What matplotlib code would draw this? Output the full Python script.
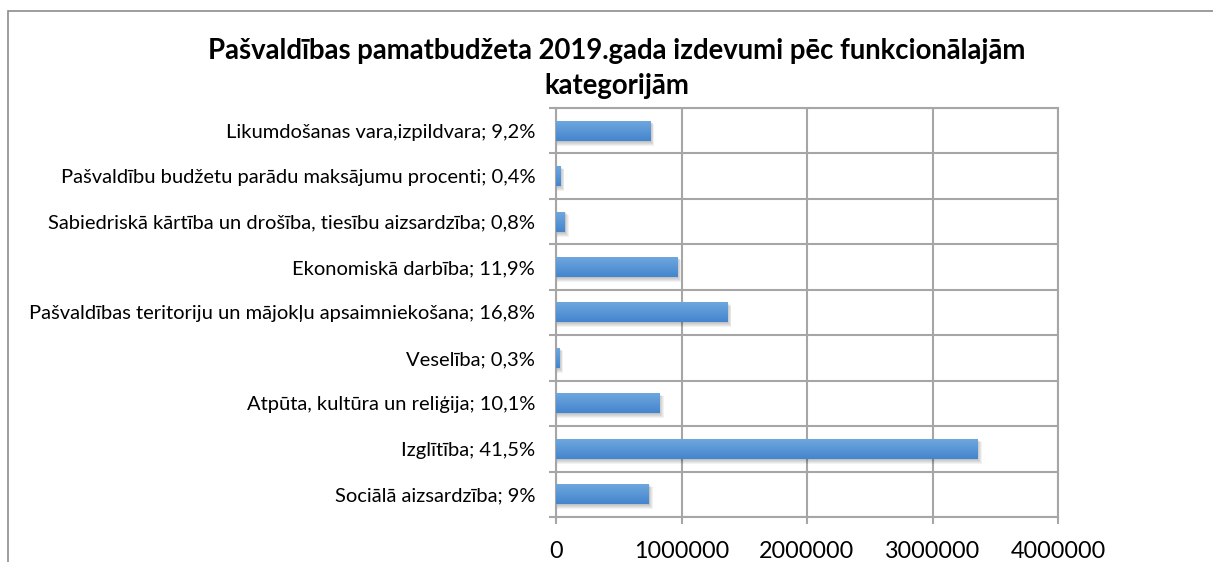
import numpy as np
import matplotlib
matplotlib.use("Agg")
import matplotlib.pyplot as plt
from matplotlib.patches import Rectangle
from matplotlib.colors import LinearSegmentedColormap

plt.rcParams['font.family'] = ['Lato', 'DejaVu Sans']

# categories top -> bottom
categories = [
    "Likumdošanas vara,izpildvara; 9,2%",
    "Pašvaldību budžetu parādu maksājumu procenti; 0,4%",
    "Sabiedriskā kārtība un drošība, tiesību aizsardzība; 0,8%",
    "Ekonomiskā darbība; 11,9%",
    "Pašvaldības teritoriju un mājokļu apsaimniekošana; 16,8%",
    "Veselība; 0,3%",
    "Atpūta, kultūra un reliģija; 10,1%",
    "Izglītība; 41,5%",
    "Sociālā aizsardzība; 9%",
]
values = [750000, 35000, 70000, 965000, 1365000, 25000, 825000, 3360000, 740000]
x_ticks = [0, 1000000, 2000000, 3000000, 4000000]
title = "Pašvaldības pamatbudžeta 2019.gada izdevumi pēc funkcionālajām\nkategorijām"

fig = plt.figure(figsize=(12.13, 5.62), dpi=100)
ax = fig.add_axes([556 / 1213, 1 - 517 / 562, 502 / 1213, 409 / 562])

grid_col = "#a6a6a6"
bar_h = 0.44
cmap = LinearSegmentedColormap.from_list("bar", ["#6ea7de", "#4485ce"])
grad = np.linspace(0, 1, 64).reshape(-1, 1)

px_x = 4000000 / 502
px_y = 9 / 409
for i, v in enumerate(values):
    # soft drop shadow
    for k in range(1, 6):
        ax.add_patch(Rectangle((0, i - bar_h / 2 + k * px_y * 0.6), v + k * px_x * 0.8,
                               bar_h + k * px_y * 0.4, facecolor="black",
                               alpha=0.05, edgecolor="none", zorder=2))
    ax.imshow(grad, cmap=cmap, aspect="auto", origin="upper",
              extent=(0, v, i + bar_h / 2, i - bar_h / 2), zorder=3)

ax.set_xlim(0, 4000000)
ax.set_ylim(len(categories) - 0.5, -0.5)

ax.set_xticks(x_ticks)
ax.set_xticklabels([str(t) for t in x_ticks], fontsize=16.8)
ax.set_yticks(np.arange(-0.5, len(categories), 1.0))
ax.set_yticklabels([])
ax.set_yticks(np.arange(len(categories)), minor=True)
ax.set_yticklabels(categories, minor=True, fontsize=14.5)
ax.tick_params(axis="y", which="minor", length=0, pad=15)
ax.tick_params(axis="y", which="major", length=5, color=grid_col, width=1.5)
ax.tick_params(axis="x", length=5, color=grid_col, width=1.5, pad=12)

ax.grid(True, which="major", color=grid_col, linewidth=1.5, zorder=1)
ax.set_axisbelow(True)
for s in ax.spines.values():
    s.set_color(grid_col)
    s.set_linewidth(1.5)

fig.text(617 / 1213, 1 - 68.5 / 562, title, ha="center", va="center",
         fontsize=19.8, fontweight="bold", linespacing=1.42)

fig.add_artist(Rectangle((8 / 1213, -0.1), 1.2, 1.1 - 11 / 562,
                         transform=fig.transFigure, facecolor="none",
                         edgecolor="#8c8c8c", linewidth=1.2))

fig.savefig("out.png", dpi=100)
